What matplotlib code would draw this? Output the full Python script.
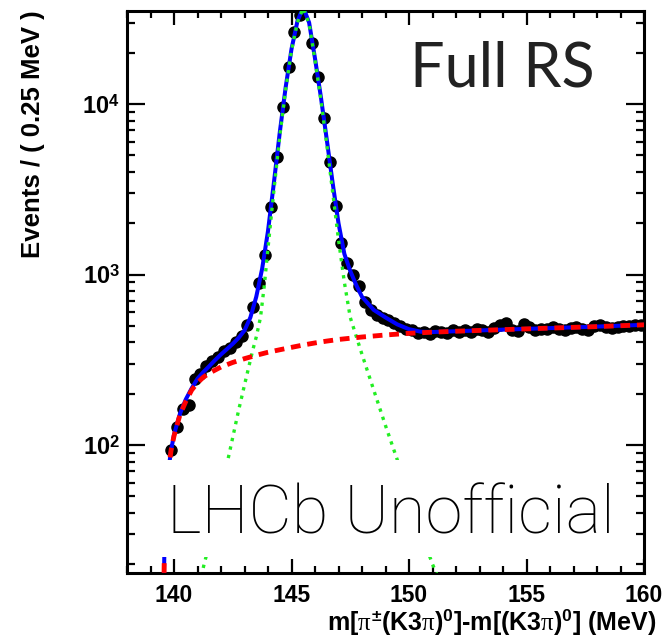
import numpy as np
import matplotlib
matplotlib.use('Agg')
import matplotlib.pyplot as plt
from matplotlib.ticker import MultipleLocator, FixedLocator, FixedFormatter, NullFormatter, LogLocator
from matplotlib.patches import Rectangle

plt.rcParams['font.family'] = ['Liberation Sans', 'DejaVu Sans']
plt.rcParams['mathtext.fontset'] = 'custom'
plt.rcParams['mathtext.rm'] = 'Liberation Sans:bold'
plt.rcParams['mathtext.bf'] = 'Liberation Sans:bold'
plt.rcParams['mathtext.it'] = 'Liberation Serif'

# ---------------- data ----------------
bin_width = 0.25
first_bin_center = 139.625
counts = [38, 93, 128, 162, 172, 245, 262, 290, 310, 330,
          355, 372, 400, 438, 505, 645, 891, 1300, 2490, 4890,
          9600, 16500, 26400, 33300, 38000, 22800, 14400, 8280, 4570, 2520,
          1530, 1170, 990, 860, 690, 620, 580, 555, 540, 520,
          500, 478,
          470, 455, 462, 450, 468, 458, 452, 470, 463, 475,
          458, 480, 470, 462, 488, 505, 520, 475, 468, 512,
          495, 470, 482, 476, 490, 478, 470, 488, 495, 480,
          475, 498, 505, 490, 485, 495, 502, 498, 505, 508]

total_x = [139.5, 139.6, 139.7, 139.8, 139.875, 140.0, 140.25, 140.5, 140.75, 141.0,
           141.25, 141.5, 141.75, 142.0, 142.25, 142.5, 142.75, 143.0, 143.25, 143.5,
           143.75, 144.0, 144.25, 144.5, 144.75, 145.0, 145.25, 145.5, 145.75, 146.0,
           146.25, 146.5, 146.75, 147.0, 147.25, 147.5, 147.75, 148.0, 148.5, 149.0,
           149.5, 150.0, 150.5, 151.0, 152.0, 153.0, 154.0, 155.0, 156.0, 157.0,
           158.0, 159.0, 160.0]
total_y = [3, 30, 55, 78, 93, 115, 152, 185, 215, 245,
           268, 290, 315, 340, 365, 392, 425, 470, 560, 740,
           1080, 1800, 3450, 6800, 12500, 21000, 30500, 37000, 30000, 18500,
           11000, 6200, 3450, 2000, 1320, 1050, 870, 740, 620, 560,
           510, 478, 462, 460, 465, 470, 475, 480, 485, 490,
           495, 501, 507]

bkg_x = [139.5, 139.6, 139.7, 139.8, 139.875, 140.0, 140.25, 140.5, 140.75, 141.0,
         141.25, 141.5, 142.0, 142.5, 143.0, 143.5, 144.0, 144.5, 145.0, 145.5,
         146.0, 146.5, 147.0, 148.0, 149.0, 150.0, 151.0, 152.0, 153.0, 154.0,
         155.0, 156.0, 157.0, 158.0, 159.0, 160.0]
bkg_y = [3, 30, 55, 78, 93, 113, 150, 180, 210, 232,
         250, 264, 287, 305, 321, 336, 350, 362, 374, 386,
         397, 407, 416, 430, 442, 452, 459, 465, 470, 475,
         480, 485, 490, 495, 501, 507]

sig_x = [141.0, 141.28, 141.5, 142.0, 142.35, 142.75, 143.0, 143.35, 143.5, 143.68,
         143.85, 144.0, 144.25, 144.5, 144.75, 145.0, 145.25, 145.5, 145.75, 146.0,
         146.25, 146.5, 146.75, 147.0, 147.25, 147.5, 148.0, 148.5, 149.0, 149.5,
         150.0, 150.5, 151.0, 151.3]
sig_y = [13.5, 20, 26, 54, 89, 160, 225, 360, 430, 560,
         880, 1430, 3100, 6450, 12100, 20600, 30100, 36600, 29600, 18100,
         10600, 5800, 3050, 1600, 900, 560, 340, 210, 130, 82,
         50, 31, 20, 16]

x_ticks = [140, 145, 150, 155, 160]
y_ticks = [100, 1000, 10000]
y_tick_labels = [r'$10^{2}$', r'$10^{3}$', r'$10^{4}$']

centers = first_bin_center + bin_width * np.arange(len(counts))

# ---------------- figure ----------------
W, H = 662, 638
fig = plt.figure(figsize=(W / 100, H / 100), dpi=100)
ax = fig.add_axes([127 / W, 1 - 573 / H, (644 - 127) / W, (573 - 11) / H])
ax.set_yscale('log')
ax.set_xlim(138, 160)
ax.set_ylim(17.76, 35120)

ax.plot(centers, counts, 'o', color='black', ms=8, zorder=2)
ax.plot(total_x, total_y, color='#0000ff', lw=2.9, zorder=3)
ax.plot(sig_x, sig_y, color='#22ee22', lw=2.4, linestyle=(0, (1.0, 1.6)), zorder=4)
ax.plot(bkg_x, bkg_y, color='#ff0000', lw=3.5, linestyle=(0, (2.0, 1.4)), zorder=5)

ax.xaxis.set_major_locator(FixedLocator(x_ticks))
ax.xaxis.set_minor_locator(MultipleLocator(1))
ax.yaxis.set_major_locator(FixedLocator(y_ticks))
ax.yaxis.set_major_formatter(FixedFormatter(y_tick_labels))
ax.yaxis.set_minor_locator(LogLocator(base=10, subs=np.arange(2, 10)))
ax.yaxis.set_minor_formatter(NullFormatter())

ax.tick_params(which='both', direction='in', top=True, right=True, width=1.6)
ax.tick_params(axis='x', which='major', length=10, pad=8, labelsize=16.5)
ax.tick_params(axis='x', which='minor', length=5)
ax.tick_params(axis='y', which='major', length=13, pad=5, labelsize=17)
ax.tick_params(axis='y', which='minor', length=6)
for lab in ax.get_xticklabels() + ax.get_yticklabels():
    lab.set_fontweight('bold')
for s in ax.spines.values():
    s.set_linewidth(2.2)

fig.text(656 / W, 1 - 630 / H,
         r'm[$\pi^{\pm}$(K3$\pi$)$^{0}$]-m[(K3$\pi$)$^{0}$] (MeV)',
         ha='right', va='baseline', fontsize=18, fontweight='bold')
fig.text(33 / W, 1 - 10 / H, 'Events / ( 0.25 MeV )', rotation=90,
         ha='center', va='top', fontsize=18.5, fontweight='bold')

fig.text(502 / W, 1 - 69 / H, 'Full RS', family=['Lato', 'DejaVu Sans'],
         fontsize=44, ha='center', va='center', color='#222222')

box = Rectangle((145 / W, 1 - 557 / H), (630 - 145) / W, (557 - 460) / H,
                transform=fig.transFigure, facecolor='white', edgecolor='none', zorder=10)
fig.patches.append(box)
fig.text(167 / W, 1 - 533 / H, 'LHCb Unofficial', family=['Roboto', 'DejaVu Sans'],
         fontweight='light', fontsize=48.2, ha='left', va='baseline', color='black', zorder=11)

fig.savefig('out.png', dpi=100, facecolor='white')
